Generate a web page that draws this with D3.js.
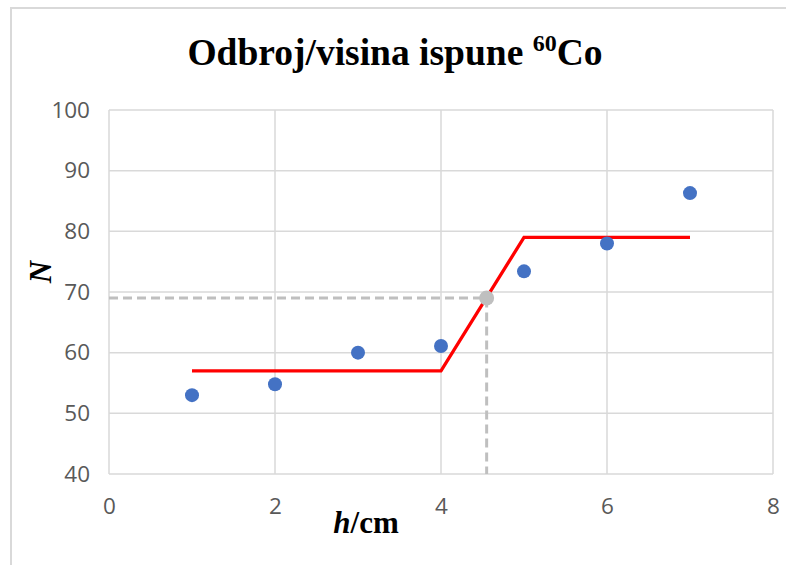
<!DOCTYPE html>
<html>
<head>
<meta charset="utf-8">
<script src="https://cdn.jsdelivr.net/npm/d3@7"></script>
<style>
  html, body { margin: 0; padding: 0; background: #fff; }
  svg { display: block; }
</style>
</head>
<body>
<svg id="chart" width="786" height="565"></svg>
<script>
// ---- data ----
const hValues = [1, 2, 3, 4, 5, 6, 7];
const nValues = [53.0, 54.8, 60.0, 61.1, 73.4, 78.0, 86.3];
const fitX = [1, 4, 5, 7];
const fitY = [57, 57, 79, 79];
const markX = [4.55];
const markY = [69];
const xTicks = [0, 2, 4, 6, 8];
const yTicks = [40, 50, 60, 70, 80, 90, 100];
const titleMain = "Odbroj/visina ispune ";
const titleSup = "60";
const titleEnd = "Co";

const svg = d3.select("#chart");
const W = 786, H = 565;
const m = { left: 109, right: 773, top: 110, bottom: 474 };

const x = d3.scaleLinear().domain([0, 8]).range([m.left, m.right]);
const y = d3.scaleLinear().domain([40, 100]).range([m.bottom, m.top]);

// outer chart border (left & top visible)
svg.append("path")
  .attr("d", `M11,${H} L11,8 L${W},8`)
  .attr("fill", "none").attr("stroke", "#d9d9d9").attr("stroke-width", 2);

// gridlines
const grid = svg.append("g").attr("stroke", "#d9d9d9").attr("stroke-width", 1.5);
grid.selectAll("line.h").data(yTicks).join("line")
  .attr("x1", m.left).attr("x2", m.right)
  .attr("y1", d => y(d)).attr("y2", d => y(d));
grid.selectAll("line.v").data(xTicks).join("line")
  .attr("y1", m.top).attr("y2", m.bottom)
  .attr("x1", d => x(d)).attr("x2", d => x(d));

// axes tick labels via d3 axes
const xAxis = svg.append("g").attr("transform", `translate(0,${m.bottom})`)
  .call(d3.axisBottom(x).tickValues(xTicks).tickSize(0).tickPadding(24).tickFormat(d3.format("d")));
const yAxis = svg.append("g").attr("transform", `translate(${m.left},0)`)
  .call(d3.axisLeft(y).tickValues(yTicks).tickSize(0).tickPadding(19).tickFormat(d3.format("d")));
[xAxis, yAxis].forEach(a => {
  a.select(".domain").remove();
  a.selectAll("text").attr("fill", "#595959")
    .style("font-family", "'Open Sans', 'Liberation Sans', sans-serif")
    .style("font-size", "22.5px");
});

// dashed guide lines
svg.append("path")
  .attr("d", `M${x(0)},${y(markY[0])} L${x(markX[0])},${y(markY[0])} L${x(markX[0])},${y(40)}`)
  .attr("fill", "none").attr("stroke", "#bfbfbf").attr("stroke-width", 3)
  .attr("stroke-dasharray", "9,5");

// fit line
const line = d3.line().x(d => x(d[0])).y(d => y(d[1]));
svg.append("path")
  .datum(fitX.map((v, i) => [v, fitY[i]]))
  .attr("d", line)
  .attr("fill", "none").attr("stroke", "#ff0000").attr("stroke-width", 3.3);

// data points
svg.selectAll("circle.pt").data(hValues.map((v, i) => [v, nValues[i]])).join("circle")
  .attr("class", "pt")
  .attr("cx", d => x(d[0])).attr("cy", d => y(d[1])).attr("r", 7)
  .attr("fill", "#4472c4");

// gray marker
svg.selectAll("circle.mk").data(markX.map((v, i) => [v, markY[i]])).join("circle")
  .attr("class", "mk")
  .attr("cx", d => x(d[0])).attr("cy", d => y(d[1])).attr("r", 7.5)
  .attr("fill", "#bfbfbf");

// title
const title = svg.append("text")
  .attr("x", 395).attr("y", 65)
  .attr("text-anchor", "middle")
  .style("font-family", "'Liberation Serif', 'Times New Roman', serif")
  .style("font-weight", "bold")
  .style("font-size", "37.5px")
  .attr("fill", "#000");
title.append("tspan").text(titleMain);
title.append("tspan").text(titleSup).attr("dy", -14).style("font-size", "24px");
title.append("tspan").text(titleEnd).attr("dy", 14);

// x axis title
const xt = svg.append("text")
  .attr("x", 366).attr("y", 533)
  .attr("text-anchor", "middle")
  .style("font-family", "'Liberation Serif', 'Times New Roman', serif")
  .style("font-weight", "bold")
  .style("font-size", "31px")
  .attr("fill", "#000");
xt.append("tspan").text("h").style("font-style", "italic");
xt.append("tspan").text("/cm");

// y axis title
svg.append("text")
  .attr("transform", `translate(51,${272}) rotate(-90)`)
  .attr("text-anchor", "middle")
  .style("font-family", "'Liberation Serif', 'Times New Roman', serif")
  .style("font-weight", "bold")
  .style("font-style", "italic")
  .style("font-size", "31px")
  .attr("fill", "#000")
  .text("N");
</script>
</body>
</html>
